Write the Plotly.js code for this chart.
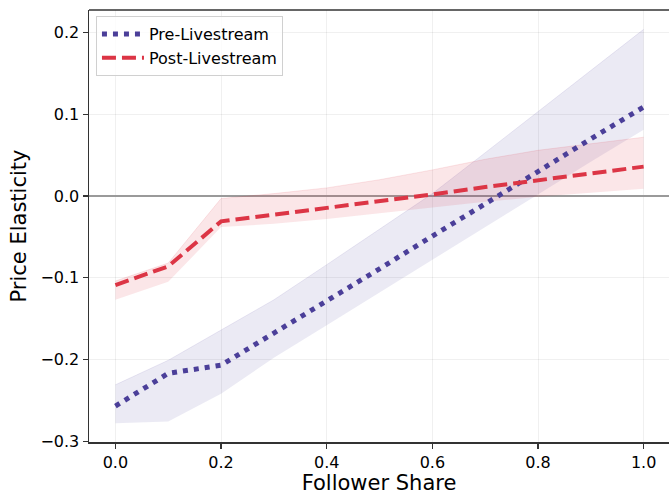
<!DOCTYPE html>
<html>
<head>
<meta charset="utf-8">
<script src="https://cdn.plot.ly/plotly-3.0.1.min.js"></script>
<style>html,body{margin:0;padding:0;background:#fff;}#chart{width:669px;height:495px;}</style>
</head>
<body>
<div id="chart"></div>
<script>
const followerShare = [0.0, 0.1, 0.2, 0.3, 0.4, 0.5, 0.6, 0.7, 0.8, 0.9, 1.0];
const preMean  = [-0.257, -0.217, -0.207, -0.168, -0.128, -0.089, -0.049, -0.010, 0.030, 0.070, 0.109];
const preUpper = [-0.231, -0.201, -0.164, -0.127, -0.084, -0.040, 0.003, 0.053, 0.103, 0.153, 0.204];
const preLower = [-0.278, -0.276, -0.242, -0.198, -0.158, -0.118, -0.077, -0.037, 0.003, 0.042, 0.081];
const postMean  = [-0.109, -0.086, -0.031, -0.023, -0.015, -0.006, 0.002, 0.011, 0.019, 0.028, 0.036];
const postUpper = [-0.104, -0.082, -0.003, 0.003, 0.010, 0.020, 0.032, 0.045, 0.056, 0.064, 0.072];
const postLower = [-0.127, -0.105, -0.038, -0.034, -0.028, -0.021, -0.014, -0.007, -0.001, 0.004, 0.009];

const preColor = '#4B3F99';
const postColor = '#DC3545';

const traces = [
  {x: followerShare, y: preLower, mode: 'lines', line: {width: 0}, hoverinfo: 'skip', showlegend: false},
  {x: followerShare, y: preUpper, mode: 'lines', line: {width: 1, color: 'rgba(75,63,153,0.10)'}, fill: 'tonexty', fillcolor: 'rgba(75,63,153,0.11)', hoverinfo: 'skip', showlegend: false},
  {x: followerShare, y: postLower, mode: 'lines', line: {width: 0}, hoverinfo: 'skip', showlegend: false},
  {x: followerShare, y: postUpper, mode: 'lines', line: {width: 1, color: 'rgba(220,53,69,0.12)'}, fill: 'tonexty', fillcolor: 'rgba(220,53,69,0.12)', hoverinfo: 'skip', showlegend: false},
  {x: followerShare, y: preMean, mode: 'lines', name: 'Pre-Livestream', line: {color: preColor, width: 5, dash: '5px,6px'}},
  {x: followerShare, y: postMean, mode: 'lines', name: 'Post-Livestream', line: {color: postColor, width: 4, dash: '14px,6px'}}
];

const layout = {
  width: 669, height: 495,
  margin: {l: 89, r: 0, t: 10, b: 53},
  paper_bgcolor: '#fff', plot_bgcolor: '#fff',
  font: {family: 'DejaVu Sans', color: '#000'},
  showlegend: true,
  legend: {x: 0.012, y: 0.986, xanchor: 'left', yanchor: 'top', traceorder: 'normal', itemwidth: 42, bgcolor: 'rgba(255,255,255,0.8)', bordercolor: '#d0d0d0', borderwidth: 1, font: {size: 16, family: 'DejaVu Sans'}, tracegroupgap: 0},
  xaxis: {
    range: [-0.05, 1.048], tickvals: [0, 0.2, 0.4, 0.6, 0.8, 1.0], ticktext: ['0.0','0.2','0.4','0.6','0.8','1.0'],
    showline: true, linecolor: '#333', linewidth: 1.5, ticks: 'outside', ticklen: 5, tickwidth: 1.2, tickcolor: '#333',
    showgrid: true, gridcolor: 'rgba(0,0,0,0.06)', gridwidth: 1, zeroline: false,
    tickfont: {size: 16}, title: {text: 'Follower Share', font: {size: 21}, standoff: 4}
  },
  yaxis: {
    range: [-0.301, 0.2277], tickvals: [-0.3, -0.2, -0.1, 0, 0.1, 0.2], ticktext: ['\u22120.3','\u22120.2','\u22120.1','0.0','0.1','0.2'],
    showline: true, linecolor: '#333', linewidth: 1.5, ticks: 'outside', ticklen: 5, tickwidth: 1.2, tickcolor: '#333',
    showgrid: true, gridcolor: 'rgba(0,0,0,0.06)', gridwidth: 1,
    zeroline: true, zerolinecolor: '#9a9a9a', zerolinewidth: 1.5,
    tickfont: {size: 16}, title: {text: 'Price Elasticity', font: {size: 21}, standoff: 8}
  },
  shapes: [
    {type: 'line', xref: 'paper', yref: 'paper', x0: 0, x1: 1, y0: 1, y1: 1, line: {color: '#333', width: 1.5}}
  ]
};

Plotly.newPlot('chart', traces, layout, {displayModeBar: false, staticPlot: true});
</script>
</body>
</html>
